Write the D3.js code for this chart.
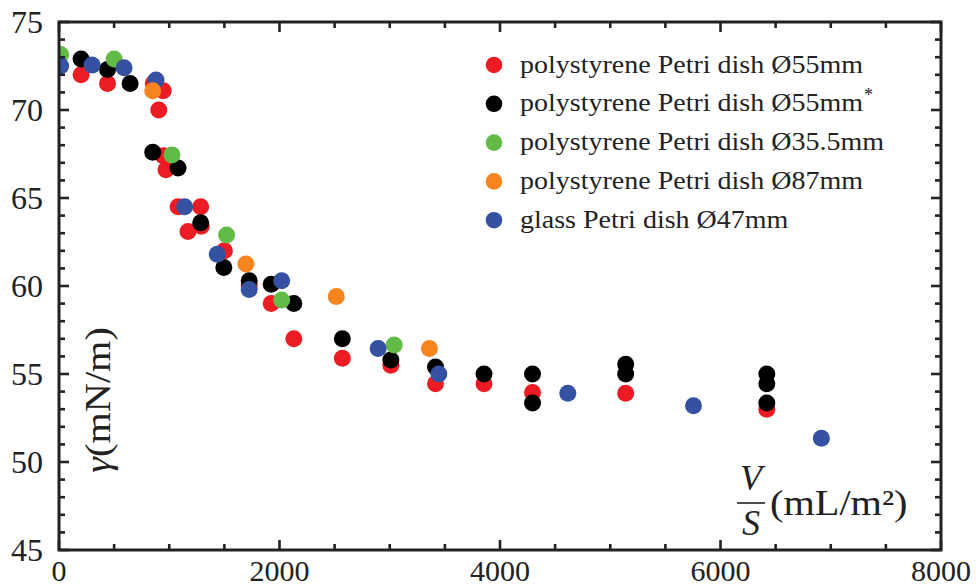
<!DOCTYPE html>
<html>
<head>
<meta charset="utf-8">
<script src="https://cdn.jsdelivr.net/npm/d3@7"></script>
<style>
  body { margin: 0; background: white; }
</style>
</head>
<body>
<div class="container"></div>
<script>
// Series: x = V/S (mL/m^2), y = gamma (mN/m)
const redX = [200, 440, 855, 945, 905, 945, 970, 1080, 1285, 1290, 1170, 1500, 1725, 1925, 2130, 2570, 3010, 3415, 3855, 4295, 5140, 6420]
const redY = [72.0, 71.5, 71.5, 71.1, 70.0, 67.4, 66.6, 64.5, 64.5, 63.4, 63.1, 62.0, 60.0, 59.0, 57.0, 55.9, 55.5, 54.45, 54.45, 53.95, 53.9, 53.0]

const blackX = [200, 440, 645, 850, 1080, 1285, 1495, 1725, 1925, 2130, 2570, 3010, 3415, 3855, 4295, 4295, 5140, 5140, 6420, 6420, 6420]
const blackY = [72.9, 72.3, 71.5, 67.6, 66.7, 63.6, 61.05, 60.3, 60.1, 59.0, 57.0, 55.8, 55.4, 55.0, 55.0, 53.35, 55.55, 55.0, 55.0, 54.45, 53.35]

const greenX = [15, 500, 1025, 1520, 2020, 3040]
const greenY = [73.15, 72.9, 67.45, 62.9, 59.2, 56.65]

const orangeX = [850, 1695, 2515, 3360]
const orangeY = [71.1, 61.25, 59.4, 56.45]

const blueX = [15, 300, 590, 880, 1140, 1435, 1725, 2020, 2895, 3445, 4615, 5755, 6915]
const blueY = [72.5, 72.55, 72.4, 71.7, 64.5, 61.8, 59.8, 60.3, 56.45, 55.0, 53.9, 53.2, 51.35]

const xTicks = [0, 2000, 4000, 6000, 8000]
const yTicks = [45, 50, 55, 60, 65, 70, 75]

const series = [
    {name: "polystyrene Petri dish Ø55mm", star: false, color: "#ed1c24", xs: redX, ys: redY},
    {name: "polystyrene Petri dish Ø55mm", star: true, color: "#000000", xs: blackX, ys: blackY},
    {name: "polystyrene Petri dish Ø35.5mm", star: false, color: "#62bb46", xs: greenX, ys: greenY},
    {name: "polystyrene Petri dish Ø87mm", star: false, color: "#f6851f", xs: orangeX, ys: orangeY},
    {name: "glass Petri dish Ø47mm", star: false, color: "#3451a2", xs: blueX, ys: blueY}
]
// orange is drawn on top of blue in the original
const drawOrder = [0, 1, 2, 4, 3]

// Create SVG
let outerWidth = 976
let outerHeight = 588
let margin = {top: 22, bottom: 38, left: 59, right: 35}
let width = outerWidth - margin.left - margin.right
let height = outerHeight - margin.top - margin.bottom

const root = d3.select(".container")
    .append("svg")
    .attr("width", outerWidth)
    .attr("height", outerHeight)
    .attr("font-family", "'Liberation Serif', 'Times New Roman', serif")

const svg = root.append("g")
    .attr("transform", `translate(${margin.left}, ${margin.top})`)

// Scales
const xScale = d3.scaleLinear()
    .domain([0, 8000])
    .range([0, width])

const yScale = d3.scaleLinear()
    .domain([45, 75])
    .range([height, 0])

// Computer Modern is wider than Times, so stretch text a bit
function widen(text) {
    text.each(function() {
        const w = this.getComputedTextLength()
        this.setAttribute("textLength", w * 1.12)
        this.setAttribute("lengthAdjust", "spacingAndGlyphs")
    })
}

// Points
svg.append("clipPath")
    .attr("id", "clip")
    .append("rect")
    .attr("width", width)
    .attr("height", height)

const pts = svg.append("g").attr("clip-path", "url(#clip)")

drawOrder.forEach(i => {
    const s = series[i]
    pts.selectAll(".pt" + i)
        .data(d3.range(s.xs.length))
        .enter()
        .append("circle")
        .attr("cx", j => xScale(s.xs[j]))
        .attr("cy", j => yScale(s.ys[j]))
        .attr("r", 8.5)
        .attr("fill", s.color)
})

// Ticks, inward on all four sides
const xMinor = d3.range(0, 8001, 500)
const yMinor = d3.range(45, 76, 1)

function tickLen(major, v) {
    return major.includes(v) ? 10 : 6
}

const ticks = svg.append("g")
    .attr("stroke", "#222")
    .attr("stroke-width", 2.6)

xMinor.forEach(v => {
    const len = tickLen(xTicks, v)
    ticks.append("line")
        .attr("x1", xScale(v)).attr("x2", xScale(v))
        .attr("y1", height).attr("y2", height - len)
    ticks.append("line")
        .attr("x1", xScale(v)).attr("x2", xScale(v))
        .attr("y1", 0).attr("y2", len)
})

yMinor.forEach(v => {
    const len = tickLen(yTicks, v)
    ticks.append("line")
        .attr("x1", 0).attr("x2", len)
        .attr("y1", yScale(v)).attr("y2", yScale(v))
    ticks.append("line")
        .attr("x1", width).attr("x2", width - len)
        .attr("y1", yScale(v)).attr("y2", yScale(v))
})

// Frame
svg.append("rect")
    .attr("width", width)
    .attr("height", height)
    .attr("fill", "none")
    .attr("stroke", "#222")
    .attr("stroke-width", 3)

// Tick labels
svg.selectAll(".xlab")
    .data(xTicks)
    .enter()
    .append("text")
    .text(d => d)
    .attr("x", d => xScale(d))
    .attr("y", height + 31)
    .attr("text-anchor", "middle")
    .attr("font-size", 30)
    .attr("fill", "#222")

svg.selectAll(".ylab")
    .data(yTicks)
    .enter()
    .append("text")
    .text(d => d)
    .attr("x", -16)
    .attr("y", d => yScale(d))
    .attr("dy", "0.34em")
    .attr("text-anchor", "end")
    .attr("font-size", 32)
    .attr("fill", "#222")

// Axis titles
const yt = svg.append("text")
    .attr("transform", `translate(${110 - margin.left}, ${400 - margin.top}) rotate(-90)`)
    .attr("text-anchor", "middle")
    .attr("font-size", 36)
    .attr("fill", "#222")

yt.append("tspan").attr("font-style", "italic").text("γ")
yt.append("tspan").text("(mN/m)")
yt.call(widen)

const xt = svg.append("g")
    .attr("transform", `translate(${751 - margin.left}, ${503 - margin.top})`)
    .attr("fill", "#222")

xt.append("text")
    .text("V")
    .attr("y", -13)
    .attr("text-anchor", "middle")
    .attr("font-style", "italic")
    .attr("font-size", 36)

xt.append("line")
    .attr("x1", -14).attr("x2", 14)
    .attr("stroke", "#222")
    .attr("stroke-width", 1.6)

xt.append("text")
    .text("S")
    .attr("y", 32)
    .attr("text-anchor", "middle")
    .attr("font-style", "italic")
    .attr("font-size", 36)

xt.append("text")
    .text("(mL/m²)")
    .attr("x", 19)
    .attr("y", 12)
    .attr("font-size", 36)
    .call(widen)

// Legend
const legend = svg.append("g")
    .attr("transform", `translate(${494 - margin.left}, ${65 - margin.top})`)

series.forEach((s, i) => {
    const row = legend.append("g")
        .attr("transform", `translate(0, ${i * 38.8})`)

    row.append("circle")
        .attr("r", 8.3)
        .attr("fill", s.color)

    const t = row.append("text")
        .attr("x", 26)
        .attr("y", 7.5)
        .attr("font-size", 25)
        .attr("fill", "#222")
        .text(s.name)
        .call(widen)

    if (s.star) {
        const w = t.node().getAttribute("textLength")
        row.append("text")
            .text("*")
            .attr("x", 26 + (+w) + 1)
            .attr("y", -3)
            .attr("font-size", 18)
            .attr("fill", "#222")
    }
})
</script>
</body>
</html>
